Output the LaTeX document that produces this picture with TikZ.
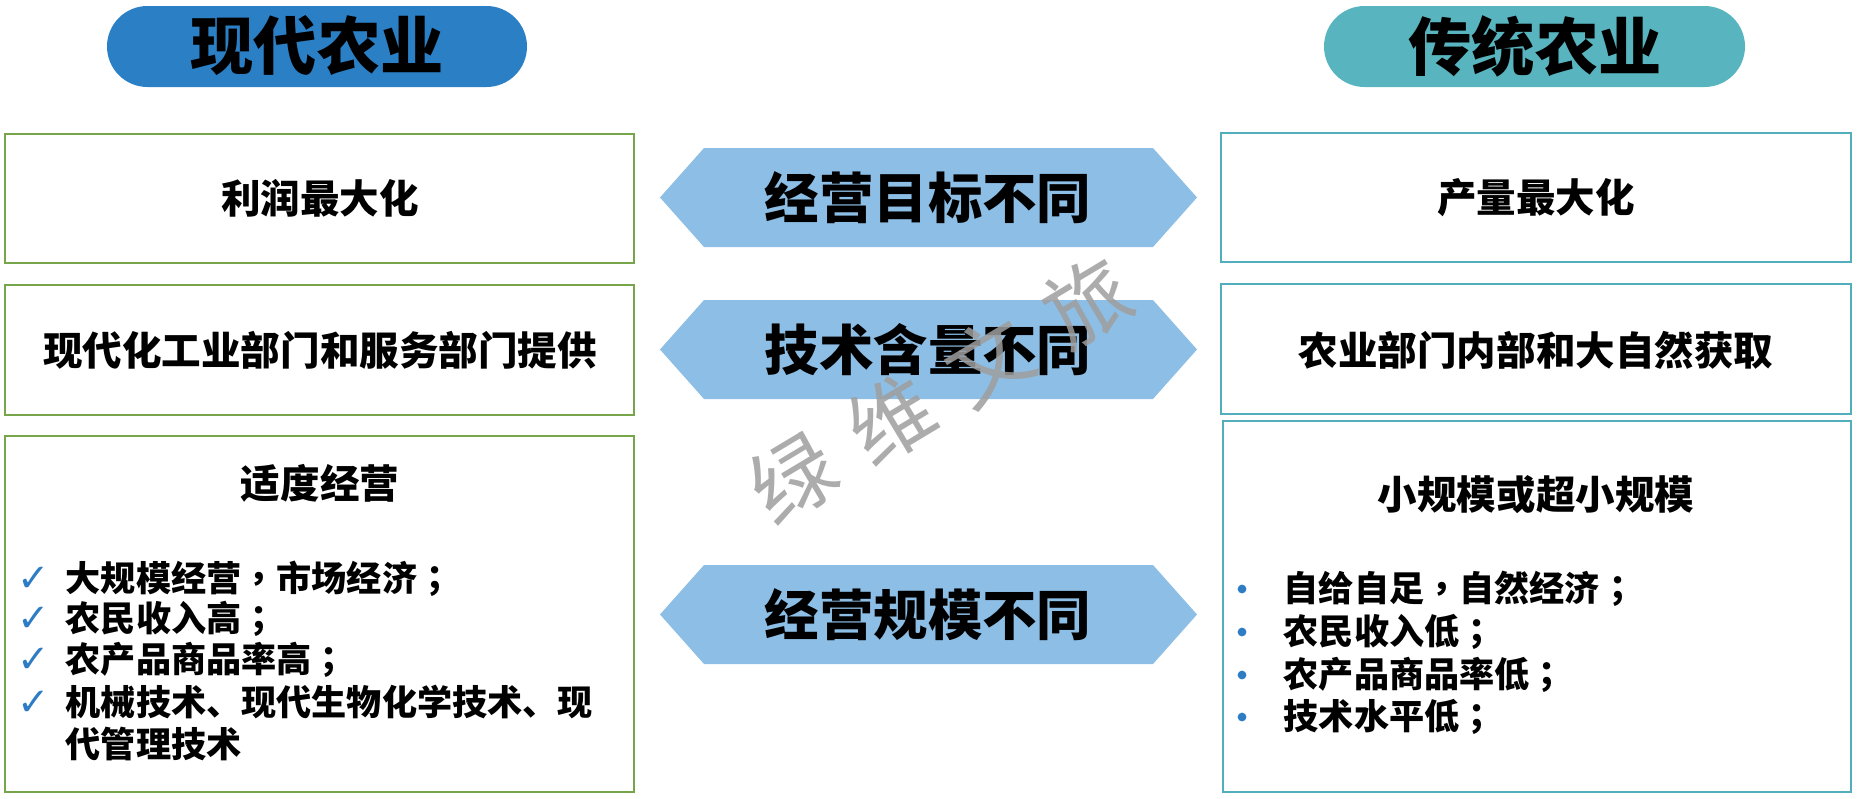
\documentclass[tikz,border=0pt]{standalone}
\usepackage{fontspec}
\setmainfont{Noto Sans CJK SC}
\newfontfamily\tcfont{Noto Sans CJK TC}
\newfontfamily\symfont{DejaVu Sans}
\definecolor{pillblue}{HTML}{2A7FC5}
\definecolor{pillteal}{HTML}{58B5BF}
\definecolor{hexblue}{HTML}{8DBFE6}
\definecolor{leftgreen}{HTML}{77A54C}
\definecolor{rightteal}{HTML}{52AEBB}
\definecolor{markblue}{HTML}{2E7CC4}
\newcommand{\fsz}[1]{\fontsize{#1}{1.17\dimexpr#1pt\relax}\selectfont}
\newcommand{\pu}[1]{{\tcfont #1}}

\begin{document}
\begin{tikzpicture}[x=0.02cm, y=-0.02cm, line width=0.85pt,
  pill/.style={rounded corners=0.81cm},
  title/.style={font=\bfseries\fsz{36}, inner sep=0pt},
  hextext/.style={font=\bfseries\fsz{31}, inner sep=0pt},
  boxtext/.style={font=\bfseries\fsz{22.5}, inner sep=0pt},
  item/.style={font=\bfseries\fsz{20}, inner sep=0pt, anchor=west, align=left},
  tick/.style={font=\symfont\fsz{22}, text=markblue, inner sep=0pt},
  dot/.style={circle, fill=markblue, inner sep=0pt, minimum size=5pt}]
  \useasboundingbox (0,0) rectangle (1858,798);
  % headings
  \fill[pillblue, pill] (107,6) rectangle (527,87);
  \fill[pillteal, pill] (1324,6) rectangle (1745,87);
  \node[title] (modern) at (317,46) {现代农业};
  \node[title] (trad) at (1535,46) {传统农业};
  % middle hexagons
  \foreach \y in {148,300,565}
    \fill[hexblue] (660,\y+49.5) -- (704,\y) -- (1153,\y) -- (1197,\y+49.5)
      -- (1153,\y+99) -- (704,\y+99) -- cycle;
  \node[hextext] (goal) at (928,198) {经营目标不同};
  \node[hextext] (tech) at (928,350) {技术含量不同};
  \node[hextext] (scale) at (928,615) {经营规模不同};
  % left boxes
  \draw[leftgreen] (5,134) rectangle (634,263);
  \draw[leftgreen] (5,285) rectangle (634,415);
  \draw[leftgreen] (5,436) rectangle (634,792);
  \node[boxtext] (profit) at (320,198) {利润最大化};
  \node[boxtext] (supply) at (320,350) {现代化工业部门和服务部门提供};
  \node[boxtext] (moderate) at (320,483) {适度经营};
  \foreach \y in {579,619,660,703}
    \node[tick] at (34,\y) {✓};
  \node[item] (l1) at (65,579) {大规模经营\pu{，}市场经济\pu{；}};
  \node[item] (l2) at (65,619) {农民收入高\pu{；}};
  \node[item] (l3) at (65,660) {农产品商品率高\pu{；}};
  \node[item] (l4) at (65,723) {机械技术、现代生物化学技术、现\\代管理技术};
  % right boxes
  \draw[rightteal] (1221,133) rectangle (1851,262);
  \draw[rightteal] (1221,284) rectangle (1851,414);
  \draw[rightteal] (1223,421) rectangle (1851,792);
  \node[boxtext] (output) at (1536,198) {产量最大化};
  \node[boxtext] (nature) at (1536,350) {农业部门内部和大自然获取};
  \node[boxtext] (small) at (1536,495) {小规模或超小规模};
  \foreach \y in {589,632,675,717}
    \node[dot] at (1242,\y) {};
  \node[item] (r1) at (1283,589) {自给自足\pu{，}自然经济\pu{；}};
  \node[item] (r2) at (1283,632) {农民收入低\pu{；}};
  \node[item] (r3) at (1283,675) {农产品商品率低\pu{；}};
  \node[item] (r4) at (1283,717) {技术水平低\pu{；}};
  % watermark
  \node[rotate=31, text=black!38, opacity=0.85, font=\fsz{48}, inner sep=0pt] (mark) at (940,390)
    {绿\hspace{17pt}维\hspace{17pt}文\hspace{17pt}旅};
\end{tikzpicture}
\end{document}
